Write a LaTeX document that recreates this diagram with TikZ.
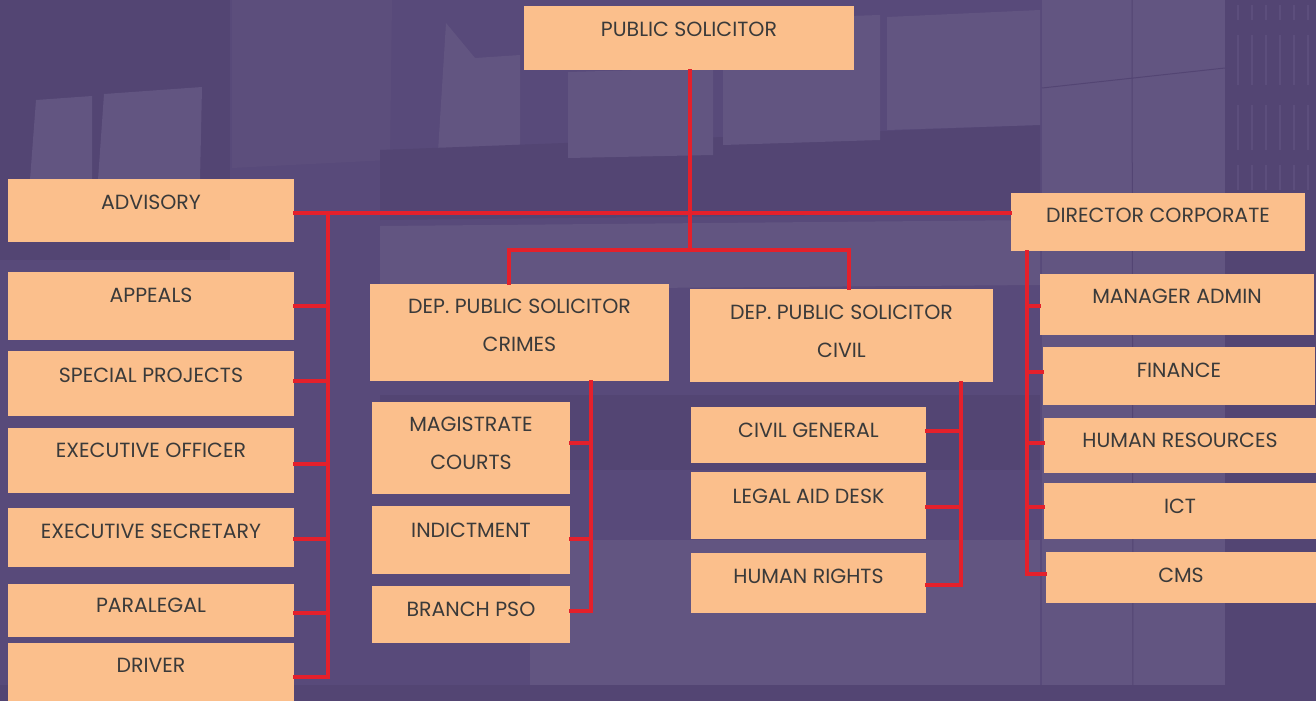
\documentclass[tikz,border=0pt]{standalone}
\usepackage{fontspec}
\setmainfont{Poppins}
\usetikzlibrary{calc}
\definecolor{bgbase}{HTML}{584A7A}
\definecolor{bgdark}{HTML}{534573}
\definecolor{bglight}{HTML}{625581}
\definecolor{bgmid}{HTML}{5C4E7C}
\definecolor{boxc}{HTML}{FBBF8C}
\definecolor{txtc}{HTML}{3A3A3A}
\definecolor{linec}{HTML}{E4202B}
\tikzset{
  orgbox/.style={fill=boxc, draw=none, inner sep=0pt},
  lbl/.style={text=txtc, inner sep=0pt, align=center, font=\fontsize{20.5}{38}\selectfont},
  conn/.style={draw=linec, line width=3.2pt, line cap=rect},
}
\newcommand\obox[5]{%
  \node[orgbox, minimum width={(#4-#2)*1pt}, minimum height={(#5-#3)*1pt}] (#1) at ({(#2+#4)/2},{(#3+#5)/2}) {};}
\newcommand\tieE[3]{\draw[conn] ($(#1.east)+(0,#2)$) coordinate (t#1) -- (t#1 -| #3);}
\newcommand\tieW[3]{\draw[conn] ($(#1.west)+(0,#2)$) coordinate (t#1) -- (t#1 -| #3);}
\begin{document}
\begin{tikzpicture}[x=1pt,y=-1pt]
\useasboundingbox (0,0) rectangle (1316,701);
% ---------- background (building photo, stylised) ----------
\fill[bgbase] (0,0) rectangle (1316,701);
\fill[bgdark] (0,0) rectangle (230,260);
\fill[bglight] (36,100) -- (92,96) -- (92,180) -- (30,180) -- cycle;
\fill[bglight] (104,94) -- (202,87) -- (200,180) -- (98,180) -- cycle;
\fill[bgmid] (232,0) -- (392,0) -- (390,160) -- (232,168) -- cycle;
\fill[bglight] (446,23) -- (475,58) -- (520,55) -- (520,168) -- (437,168) -- cycle;
\fill[bgdark] (380,150) -- (1040,125) -- (1040,213) -- (380,220) -- cycle;
\fill[bglight] (568,72) -- (713,68) -- (713,155) -- (568,158) -- cycle;
\fill[bglight] (723,20) -- (880,15) -- (880,140) -- (723,145) -- cycle;
\fill[bglight] (887,17) -- (1040,10) -- (1040,125) -- (887,130) -- cycle;
\fill[bglight] (1042,0) rectangle (1225,700);
\fill[bgdark] (1225,0) rectangle (1316,701);
\draw[bgdark, line width=1pt] (1042,88) -- (1225,68);
\draw[bgdark, line width=1pt] (1132,0) -- (1133,700);
\foreach \x in {1238,1252,1266,1280,1294,1308}
  \draw[bgmid, line width=1.5pt] (\x,5) -- (\x,20) (\x,35) -- (\x,85) (\x,105) -- (\x,150) (\x,165) -- (\x,190);
\fill[bglight] (380,226) -- (1040,220) -- (1040,285) -- (380,290) -- cycle;
\fill[bgdark] (380,395) rectangle (1040,470);
\fill[bglight] (530,540) rectangle (1040,685);
\fill[bgdark] (0,685) rectangle (1316,701);
% ---------- boxes ----------
\obox{ps}{524}{6}{854}{70}
\obox{adv}{8}{179}{294}{242}
\obox{app}{8}{272}{294}{340}
\obox{spp}{8}{351}{294}{416}
\obox{exo}{8}{428}{294}{493}
\obox{exs}{8}{508}{294}{567}
\obox{par}{8}{584}{294}{637}
\obox{drv}{8}{643}{294}{701}
\obox{dir}{1011}{193}{1305}{251}
\obox{mga}{1040}{274}{1314}{335}
\obox{fin}{1043}{347}{1315}{405}
\obox{hr}{1044}{418}{1316}{473}
\obox{ict}{1044}{483}{1316}{539}
\obox{cms}{1046}{552}{1316}{603}
\obox{dpc}{370}{284}{669}{381}
\obox{dpv}{690}{289}{993}{382}
\obox{mag}{372}{402}{570}{494}
\obox{ind}{372}{506}{570}{574}
\obox{bra}{372}{586}{570}{643}
\obox{cg}{691}{407}{926}{463}
\obox{lad}{691}{472}{926}{539}
\obox{hrt}{691}{553}{926}{613}
% ---------- labels ----------
\node[lbl] (psT)  at ([yshift=-23.5pt]ps.north)  {PUBLIC SOLICITOR};
\node[lbl] (advT) at ([yshift=-24pt]adv.north) {ADVISORY};
\node[lbl] (appT) at ([yshift=-24pt]app.north) {APPEALS};
\node[lbl] (sppT) at ([yshift=-25pt]spp.north) {SPECIAL PROJECTS};
\node[lbl] (exoT) at ([yshift=-23pt]exo.north) {EXECUTIVE OFFICER};
\node[lbl] (exsT) at ([yshift=-24pt]exs.north) {EXECUTIVE SECRETARY};
\node[lbl] (parT) at ([yshift=-22pt]par.north) {PARALEGAL};
\node[lbl] (drvT) at ([yshift=-23pt]drv.north) {DRIVER};
\node[lbl] (dirT) at ([yshift=-23pt]dir.north) {DIRECTOR CORPORATE};
\node[lbl] (mgaT) at ([yshift=-23pt]mga.north) {MANAGER ADMIN};
\node[lbl] (finT) at ([yshift=-24pt]fin.north) {FINANCE};
\node[lbl] (hrT)  at ([yshift=-23pt]hr.north)  {HUMAN RESOURCES};
\node[lbl] (ictT) at ([yshift=-24pt]ict.north) {ICT};
\node[lbl] (cmsT) at ([yshift=-24pt]cms.north) {CMS};
\node[lbl] (dpcT) at ([yshift=-42pt]dpc.north) {DEP. PUBLIC SOLICITOR\\CRIMES};
\node[lbl] (dpvT) at ([yshift=-42.5pt]dpv.north) {DEP. PUBLIC SOLICITOR\\CIVIL};
\node[lbl] (magT) at ([yshift=-41.5pt]mag.north) {MAGISTRATE\\COURTS};
\node[lbl] (indT) at ([yshift=-25pt]ind.north) {INDICTMENT};
\node[lbl] (braT) at ([yshift=-24pt]bra.north) {BRANCH PSO};
\node[lbl] (cgT)  at ([yshift=-24pt]cg.north)  {CIVIL GENERAL};
\node[lbl] (ladT) at ([yshift=-25pt]lad.north) {LEGAL AID DESK};
\node[lbl] (hrtT) at ([yshift=-24pt]hrt.north) {HUMAN RIGHTS};
% ---------- connectors ----------
\coordinate (hy) at (0,213);
\coordinate (hub) at (690,250);
\coordinate (hubL) at (509,250);
\coordinate (hubR) at (849,250);
\coordinate (Lt) at (328,213);
\coordinate (Lb) at (328,677);
\coordinate (Rb) at (1027,574);
\coordinate (Cb) at (591,611);
\coordinate (Vb) at (961,585);
\draw[conn] (adv.east |- hy) -- (dir.west |- hy);
\draw[conn] (ps.south -| hub) -- (hub);
\draw[conn] (hubL) -- (hubR);
\draw[conn] (hubL) -- (hubL |- dpc.north);
\draw[conn] (hubR) -- (hubR |- dpv.north);
\draw[conn] (Lt) -- (Lb);
\draw[conn] (Rb |- dir.south) -- (Rb);
\draw[conn] (Cb |- dpc.south) -- (Cb);
\draw[conn] (Vb |- dpv.south) -- (Vb);
\tieE{app}{0}{Lt}
\tieE{spp}{-2.5}{Lt}
\tieE{exo}{3.5}{Lt}
\tieE{exs}{1.5}{Lt}
\tieE{par}{2.5}{Lt}
\tieE{drv}{5}{Lt}
\tieW{mga}{1.5}{Rb}
\tieW{fin}{-4}{Rb}
\tieW{hr}{-2.5}{Rb}
\tieW{ict}{-4}{Rb}
\tieW{cms}{-3.5}{Rb}
\tieE{mag}{-5}{Cb}
\tieE{ind}{-1}{Cb}
\tieE{bra}{-3.5}{Cb}
\tieE{cg}{-4}{Vb}
\tieE{lad}{1.5}{Vb}
\tieE{hrt}{2}{Vb}
\end{tikzpicture}
\end{document}
